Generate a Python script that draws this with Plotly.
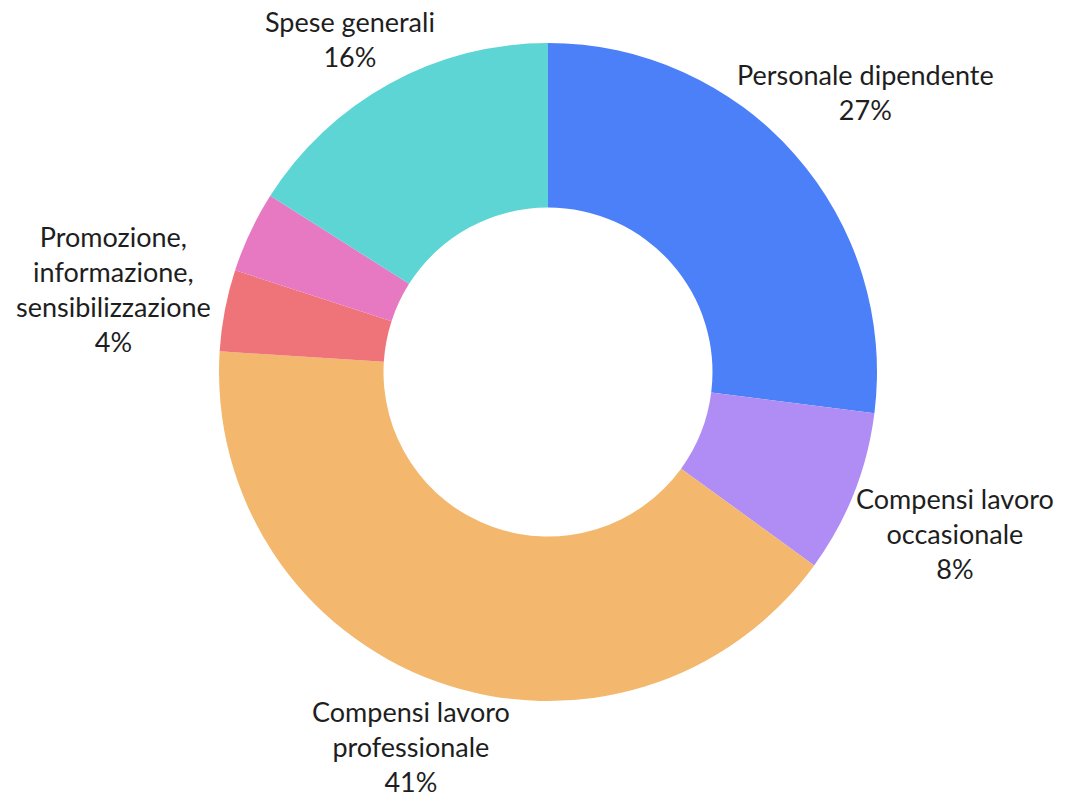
import math
import plotly.graph_objects as go

# Voci di spesa del progetto (percentuali sul totale)
categorie = [
    "Personale dipendente",
    "Compensi lavoro<br>occasionale",
    "Compensi lavoro<br>professionale",
    "Promozione,<br>informazione,<br>sensibilizzazione",
    "Altre spese",
    "Spese generali",
]
valori = [27, 8, 41, 4, 4, 16]
mostra_etichetta = [True, True, True, True, False, True]
colori = ["#4C80F8", "#AF8DF5", "#F3B76D", "#EF747A", "#E779C3", "#5CD5D4"]

W, H = 1073, 803
FONT_SIZE = 27
LINE_H = 1.3 * FONT_SIZE

# area della ciambella (in pixel)
cx_px, cy_px, r_px = 548, 372, 329
dom_x = [(cx_px - r_px) / W, (cx_px + r_px) / W]
dom_y = [1 - (cy_px + r_px) / H, 1 - (cy_px - r_px) / H]

fig = go.Figure(
    go.Pie(
        labels=categorie,
        values=valori,
        textinfo="none",
        hole=0.5,
        sort=False,
        direction="clockwise",
        rotation=0,
        marker=dict(colors=colori, line=dict(width=0)),
        showlegend=False,
        domain=dict(x=dom_x, y=dom_y),
    )
)

# etichette esterne: centrate sulla bisettrice di ogni fetta, su un'ellisse
a_ell, b_ell = 1.35 * r_px, 1.22 * r_px
totale = sum(valori)
cumulato = 0
annotazioni = []
for c, v, m in zip(categorie, valori, mostra_etichetta):
    medio = (cumulato + v / 2) / totale * 2 * math.pi
    cumulato += v
    if not m:
        continue
    dx, dy = math.sin(medio), -math.cos(medio)
    t = 1 / math.sqrt((dx / a_ell) ** 2 + (dy / b_ell) ** 2)
    x_px = cx_px + dx * t
    y_px = cy_px + dy * t
    n_righe = c.count("<br>") + 2
    meta_h = n_righe * LINE_H / 2
    y_px = min(max(y_px, meta_h + 4), H - meta_h - 4)
    annotazioni.append(
        dict(
            x=x_px / W,
            y=1 - y_px / H,
            xref="paper",
            yref="paper",
            text=f"{c}<br>{v}%",
            showarrow=False,
            xanchor="center",
            yanchor="middle",
            align="center",
            font=dict(family="Lato", size=FONT_SIZE, color="#1e1e1e"),
        )
    )

fig.update_layout(
    width=W,
    height=H,
    margin=dict(l=0, r=0, t=0, b=0),
    paper_bgcolor="white",
    plot_bgcolor="white",
    annotations=annotazioni,
)

fig.write_html("out.html")
